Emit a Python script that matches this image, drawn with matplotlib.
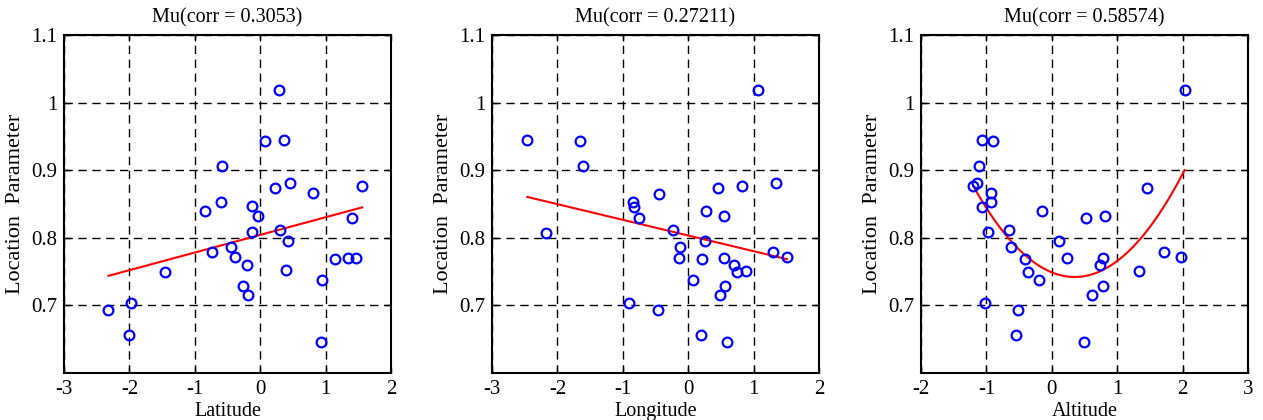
import numpy as np
import matplotlib
matplotlib.use('Agg')
import matplotlib.pyplot as plt

plt.rcParams['font.family'] = ['Liberation Serif', 'DejaVu Serif']
plt.rcParams['axes.unicode_minus'] = False

# location parameter (same for all three panels)
mu = [1.019, 0.943, 0.945, 0.906, 0.881, 0.873, 0.866, 0.876,
      0.853, 0.839, 0.847, 0.832, 0.830, 0.808, 0.811, 0.796,
      0.786, 0.779, 0.772, 0.760, 0.769, 0.770, 0.770, 0.749,
      0.752, 0.729, 0.716, 0.737, 0.703, 0.693, 0.656, 0.646]
latitude = [0.29, 0.08, 0.37, -0.59, 0.46, 0.23, 0.80, 1.56,
            -0.60, -0.85, -0.12, -0.04, 1.40, -0.13, 0.30, 0.42,
            -0.44, -0.73, -0.39, -0.20, 1.14, 1.35, 1.47, -1.46,
            0.39, -0.27, -0.18, 0.94, -1.98, -2.32, -2.01, 0.93]

mu2 = [1.019, 0.944, 0.943, 0.906, 0.865, 0.873, 0.876, 0.881,
       0.853, 0.846, 0.830, 0.839, 0.832, 0.807, 0.811, 0.795,
       0.786, 0.770, 0.769, 0.770, 0.779, 0.772, 0.760, 0.750,
       0.751, 0.737, 0.729, 0.716, 0.703, 0.693, 0.656, 0.646]
longitude = [1.07, -2.46, -1.65, -1.61, -0.45, 0.45, 0.83, 1.34,
             -0.85, -0.83, -0.75, 0.27, 0.54, -2.18, -0.23, 0.25,
             -0.12, -0.14, 0.21, 0.54, 1.29, 1.51, 0.70, 0.75,
             0.89, 0.08, 0.56, 0.48, -0.91, -0.46, 0.19, 0.59]

mu3 = [1.019, 0.944, 0.943, 0.906, 0.881, 0.876, 0.873, 0.866,
       0.853, 0.846, 0.839, 0.830, 0.832, 0.808, 0.811, 0.795,
       0.786, 0.769, 0.770, 0.770, 0.779, 0.772, 0.760, 0.750,
       0.751, 0.737, 0.729, 0.716, 0.703, 0.693, 0.656, 0.646]
altitude = [2.03, -1.07, -0.90, -1.12, -1.15, -1.20, 1.46, -0.93,
            -0.93, -1.07, -0.15, 0.53, 0.82, -0.97, -0.66, 0.11,
            -0.62, -0.41, 0.24, 0.78, 1.71, 1.98, 0.74, -0.37,
            1.33, -0.20, 0.78, 0.61, -1.02, -0.52, -0.54, 0.49]

# fitted curves (polynomial coefficients, highest power first)
fit_lat = [0.0261, 0.8043]
fit_lon = [-0.0232, 0.8034]
fit_alt = [0.0560, -0.0392, 0.7489]

panels = [
    ('Latitude', latitude, mu, fit_lat, 'Mu(corr = 0.3053)', (-3, 2), [-3, -2, -1, 0, 1, 2]),
    ('Longitude', longitude, mu2, fit_lon, 'Mu(corr = 0.27211)', (-3, 2), [-3, -2, -1, 0, 1, 2]),
    ('Altitude', altitude, mu3, fit_alt, 'Mu(corr = 0.58574)', (-2, 3), [-2, -1, 0, 1, 2, 3]),
]
lefts = [64, 492, 921]

fig = plt.figure(figsize=(12.63, 4.2), dpi=100)
for (xlab, x, y, coef, title, xlim, xticks), left in zip(panels, lefts):
    ax = fig.add_axes([left / 1263, 47 / 420, 327 / 1263, 338 / 420])
    xs = np.linspace(min(x), max(x), 100)
    ax.plot(xs, np.polyval(coef, xs), color='red', lw=1.5, zorder=3)
    ax.plot(x, y, 'o', mfc='none', mec='blue', ms=7, mew=1.6, zorder=4)
    ax.set_xlim(xlim)
    ax.set_ylim(0.6, 1.1)
    ax.set_xticks(xticks)
    ax.set_yticks([0.7, 0.8, 0.9, 1.0, 1.1])
    ax.set_yticklabels(['0.7', '0.8', '0.9', '1', '1.1'])
    ax.tick_params(direction='in', length=4, width=1, labelsize=15, pad=5,
                   top=True, right=True)
    ax.grid(True, color='black', linestyle=(0, (6, 4)), linewidth=1)
    for s in ax.spines.values():
        s.set_linewidth(1.5)
    ax.set_title(title, fontsize=14.5, pad=9)
    ax.set_xlabel(xlab, fontsize=14.5, labelpad=2)
    ax.set_ylabel('Location  Parameter', fontsize=16, labelpad=4)

fig.savefig('out.png', dpi=100)
